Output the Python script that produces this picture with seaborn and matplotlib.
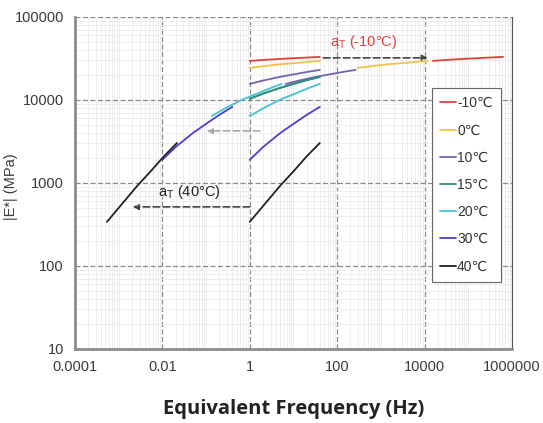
import numpy as np
import pandas as pd
import seaborn as sns
import matplotlib.pyplot as plt
from matplotlib.ticker import LogLocator, NullFormatter, FixedLocator, FixedFormatter
from matplotlib.lines import Line2D

# test frequencies (Hz)
freq = [1, 2, 5, 10, 20, 40]

# |E*| (MPa) measured at each temperature
temps = ["-10℃", "0℃", "10℃", "15°C", "20℃", "30℃", "40℃"]
e_m10 = [29500, 30300, 31200, 31800, 32400, 33000]
e_0 = [24300, 25500, 26900, 27700, 28600, 29500]
e_10 = [15600, 17100, 19000, 20300, 21700, 23000]
e_15 = [10300, 11900, 14000, 15600, 17300, 18900]
e_20 = [6400, 7900, 10100, 11700, 13600, 15600]
e_30 = [1900, 2700, 4000, 5150, 6600, 8250]
e_40 = [340, 525, 930, 1380, 2090, 3030]

# shift factors a_T (reference 15°C)
shift = [15500, 295, 6.6, 1, 0.135, 0.01, 0.00054]

colors = ["#e0403a", "#f2c244", "#7463b0", "#2f8f78", "#45c3d2", "#4a3fd0", "#222222"]

xticks = [0.0001, 0.01, 1, 100, 10000, 1000000]
xlabels = ["0.0001", "0.01", "1", "100", "10000", "1000000"]
yticks = [10, 100, 1000, 10000, 100000]
ylabels = ["10", "100", "1000", "10000", "100000"]

series = [e_m10, e_0, e_10, e_15, e_20, e_30, e_40]

rows = []
for t, vals, a in zip(temps, series, shift):
    for f, e in zip(freq, vals):
        rows.append({"temp": t, "kind": "measured", "freq": f, "E": e})
        rows.append({"temp": t, "kind": "shifted", "freq": f * a, "E": e})
df = pd.DataFrame(rows)

sns.set_style("white")
plt.rcParams["font.family"] = ["Liberation Sans", "DejaVu Sans"]

fig = plt.figure(figsize=(5.43, 4.23), dpi=100)
ax = fig.add_axes([0.138, 0.175, 0.805, 0.785])

for t, c in zip(temps, colors):
    for kind in ["measured", "shifted"]:
        sub = df[(df["temp"] == t) & (df["kind"] == kind)]
        sns.lineplot(data=sub, x="freq", y="E", color=c, linewidth=1.3,
                     ax=ax, legend=False, sort=False)

ax.set_xscale("log")
ax.set_yscale("log")
ax.set_xlim(0.0001, 1000000)
ax.set_ylim(10, 100000)

ax.xaxis.set_major_locator(FixedLocator(xticks))
ax.xaxis.set_major_formatter(FixedFormatter(xlabels))
ax.xaxis.set_minor_locator(LogLocator(base=10, subs=np.arange(1, 10), numticks=30))
ax.xaxis.set_minor_formatter(NullFormatter())
ax.yaxis.set_major_locator(FixedLocator(yticks))
ax.yaxis.set_major_formatter(FixedFormatter(ylabels))
ax.yaxis.set_minor_locator(LogLocator(base=10, subs=np.arange(2, 10), numticks=30))
ax.yaxis.set_minor_formatter(NullFormatter())

ax.grid(which="minor", color="#ebebeb", linewidth=0.6, linestyle="-")
ax.grid(which="major", color="#8a8a8a", linewidth=0.9, linestyle=(0, (4, 2)))
ax.set_axisbelow(True)

ax.tick_params(which="major", direction="out", length=4, width=1, color="#777777",
               labelsize=10.5, labelcolor="#3a3a3a", pad=4)
ax.tick_params(which="minor", length=0)

ax.spines["top"].set_visible(False)
ax.spines["left"].set_color("#8c8c8c")
ax.spines["left"].set_linewidth(2)
ax.spines["bottom"].set_color("#8c8c8c")
ax.spines["bottom"].set_linewidth(2)
ax.spines["right"].set_color("#555555")
ax.spines["right"].set_linewidth(0.8)

ax.set_xlabel("Equivalent Frequency (Hz)", fontsize=14.5, fontweight="bold",
              family=["Open Sans", "DejaVu Sans"], color="#222222", labelpad=18)
ax.set_ylabel("|E*| (MPa)", fontsize=10.5, color="#3a3a3a")
ax.yaxis.set_label_coords(-0.13, 0.49)

# shift arrows
arrow_dark = dict(arrowstyle="-|>", linestyle=(0, (4, 2)), color="#444444",
                  linewidth=1.2, mutation_scale=8, shrinkA=0, shrinkB=0)
ax.annotate("", xy=(0.0021, 515), xytext=(1, 515), arrowprops=arrow_dark)
ax.annotate("", xy=(11800, 32100), xytext=(48, 32100), arrowprops=arrow_dark)
ax.annotate("", xy=(0.104, 4240), xytext=(1.7, 4240),
            arrowprops=dict(arrowstyle="-|>", linestyle=(0, (4, 2)), color="#a8a8a8",
                            linewidth=1.2, mutation_scale=8, shrinkA=0, shrinkB=0))

ax.text(407, 50000, "a$_\\mathregular{T}$ (-10°C)", color="#e0403a", fontsize=10.5,
        ha="center", va="center")
ax.text(0.042, 780, "a$_\\mathregular{T}$ (40°C)", color="#222222", fontsize=10.5,
        ha="center", va="center")

handles = [Line2D([0], [0], color=c, linewidth=1.3) for c in colors]
leg = ax.legend(handles, temps, loc="upper left", bbox_to_anchor=(0.817, 0.786),
                borderaxespad=0, fontsize=10, handlelength=1.1, handletextpad=0.1,
                labelspacing=0.95, fancybox=False, framealpha=1, borderpad=0.6)
leg.get_frame().set_edgecolor("#666666")
leg.get_frame().set_linewidth(0.8)
for txt in leg.get_texts():
    txt.set_color("#333333")

fig.savefig("out.png", dpi=100)
